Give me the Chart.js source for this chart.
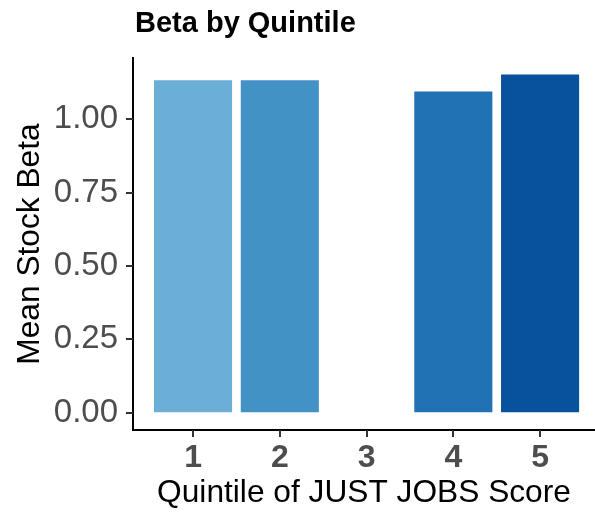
<!DOCTYPE html>
<html>
<head>
<meta charset="utf-8">
<script src="https://cdn.jsdelivr.net/npm/chart.js@4.4.1/dist/chart.umd.min.js"></script>
<style>
  html, body { margin: 0; padding: 0; background: #fff; overflow: hidden; }
</style>
</head>
<body>
<canvas id="chart" width="595" height="515"></canvas>
<script>
// data
const quintiles = [1, 2, 3, 4, 5];
const meanBeta = [1.133, 1.133, null, 1.095, 1.153];
const barColors = ['#6BAED6', '#4292C6', '#9ECAE1', '#2171B5', '#08519C'];
const yTicks = [0, 0.25, 0.5, 0.75, 1.0];

Chart.defaults.font.family = '"Liberation Sans", Arial, sans-serif';

// title drawn by hand so it can sit at the panel's left edge
const titlePlugin = {
  id: 'plotTitle',
  afterDraw(chart) {
    const ctx = chart.ctx;
    ctx.save();
    ctx.font = 'bold 29px "Liberation Sans", Arial, sans-serif';
    ctx.fillStyle = '#000';
    ctx.textBaseline = 'alphabetic';
    ctx.textAlign = 'left';
    ctx.fillText('Beta by Quintile', 135, 32);
    ctx.restore();
  }
};

// outward tick marks, placed through the scales
const tickMarks = {
  id: 'tickMarks',
  afterDraw(chart) {
    const ctx = chart.ctx;
    const area = chart.chartArea;
    const len = 7;
    ctx.save();
    ctx.strokeStyle = '#333';
    ctx.lineWidth = 2;
    ctx.beginPath();
    chart.scales.x.ticks.forEach(t => {
      const px = Math.round(chart.scales.x.getPixelForValue(t.value));
      ctx.moveTo(px, area.bottom);
      ctx.lineTo(px, area.bottom + len);
    });
    chart.scales.y.ticks.forEach(t => {
      const py = Math.round(chart.scales.y.getPixelForValue(t.value));
      ctx.moveTo(area.left, py);
      ctx.lineTo(area.left - len, py);
    });
    ctx.stroke();
    ctx.restore();
  }
};

const tickGrid = {
  offset: false,
  drawOnChartArea: false,
  tickLength: 7,
  tickColor: 'rgba(0,0,0,0)'
};

new Chart(document.getElementById('chart'), {
  type: 'bar',
  data: {
    datasets: [{
      data: quintiles.map((q, i) => ({ x: q, y: meanBeta[i] })),
      backgroundColor: barColors,
      borderWidth: 0,
      barPercentage: 0.9,
      categoryPercentage: 1.0
    }]
  },
  options: {
    responsive: false,
    animation: false,
    layout: { padding: { top: 58, left: 0, right: 0, bottom: 0 } },
    plugins: {
      legend: { display: false },
      tooltip: { enabled: false }
    },
    scales: {
      x: {
        type: 'linear',
        min: 0.308,
        max: 5.633,
        offset: false,
        afterBuildTicks: s => { s.ticks = quintiles.map(v => ({ value: v })); },
        afterFit: s => { s.height = 85; },
        ticks: {
          callback: v => String(v),
          color: '#4D4D4D',
          font: { size: 32, weight: 'bold' },
          padding: 2,
          maxRotation: 0
        },
        grid: tickGrid,
        border: { color: '#000', width: 2 },
        title: {
          display: true,
          text: 'Quintile of JUST JOBS Score',
          color: '#000',
          font: { size: 31.7 },
          padding: { top: 0, bottom: 3 }
        }
      },
      y: {
        min: -0.059,
        max: 1.209,
        afterBuildTicks: s => { s.ticks = yTicks.map(v => ({ value: v })); },
        afterFit: s => { s.width = 133; },
        ticks: {
          callback: v => v.toFixed(2),
          color: '#4D4D4D',
          font: { size: 33 },
          padding: 8
        },
        grid: tickGrid,
        border: { color: '#000', width: 2 },
        title: {
          display: true,
          text: 'Mean Stock Beta',
          color: '#000',
          font: { size: 31.7 },
          padding: { top: 11, bottom: 0 }
        }
      }
    }
  },
  plugins: [titlePlugin, tickMarks]
});
</script>
</body>
</html>
